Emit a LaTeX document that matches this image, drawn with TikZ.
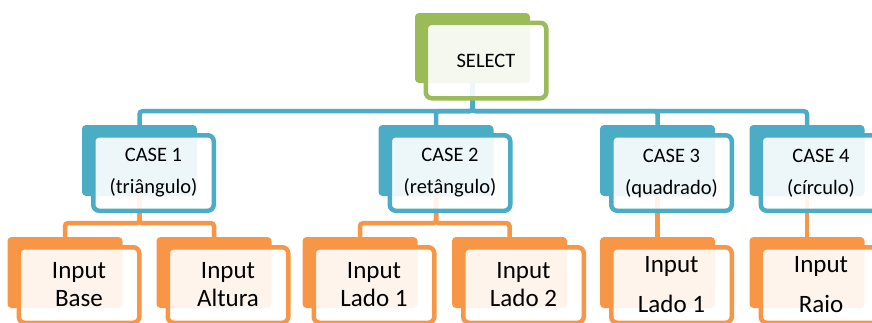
\documentclass[tikz,border=0pt]{standalone}
\usepackage{fontspec}
\setmainfont{Carlito}
\definecolor{selgreen}{HTML}{9BBB59}
\definecolor{caseblue}{HTML}{4BACC6}
\definecolor{inorange}{HTML}{F79646}
\tikzset{
  back/.style={fill=#1, rounded corners=4pt, minimum width=115pt, minimum height=71pt, inner sep=0pt},
  front/.style={draw=#1, line width=4.5pt, fill=white, fill opacity=0.9, text opacity=1,
    rounded corners=6pt, minimum width=120.5pt, minimum height=75.5pt, inner sep=0pt, align=center},
  casefont/.style={font=\fontsize{20.5}{32}\selectfont},
  infont/.style={font=\fontsize{25}{28}\selectfont},
  inwide/.style={font=\fontsize{25}{40}\selectfont},
  link/.style={draw=#1, line width=4.5pt, rounded corners=3pt}
}
\begin{document}
\begin{tikzpicture}[x=1pt, y=-1pt]
    \useasboundingbox (0,0) rectangle (872,322);
    % back plates
    \path (472.5, 48)   node [back=selgreen, minimum height=70pt] (sel) {};
    \path (139.5, 160.5) node [back=caseblue] (c1) {};
    \path (436, 160.5)   node [back=caseblue] (c2) {};
    \path (657.5, 160.5) node [back=caseblue] (c3) {};
    \path (807, 160.5)   node [back=caseblue] (c4) {};
    \path (65, 272.5)    node [back=inorange] (in1) {};
    \path (214, 272.5)   node [back=inorange] (in2) {};
    \path (360, 272.5)   node [back=inorange] (in3) {};
    \path (509.5, 272.5) node [back=inorange] (in4) {};
    \path (657.5, 272.5) node [back=inorange] (in5) {};
    \path (807, 272.5)   node [back=inorange] (in6) {};
    % links
    \draw [link=caseblue] (sel.south) -- +(0,28) -| (c1.north);
    \draw [link=caseblue] (sel.south) -- +(0,28) -| (c2.north);
    \draw [link=caseblue] (sel.south) -- +(0,28) -| (c3.north);
    \draw [link=caseblue] (sel.south) -- +(0,28) -| (c4.north);
    \draw [link=inorange] (c1.south) -- +(0,27) -| (in1.north);
    \draw [link=inorange] (c1.south) -- +(0,27) -| (in2.north);
    \draw [link=inorange] (c2.south) -- +(0,27) -| (in3.north);
    \draw [link=inorange] (c2.south) -- +(0,27) -| (in4.north);
    \draw [link=inorange] (c3.south) -- (in5.north);
    \draw [link=inorange] (c4.south) -- (in6.north);
    % front boxes with the texts
    \path ([shift={(13.5,12.5)}]sel.center) node [front=selgreen, casefont] (self) {SELECT};
    \path ([shift={(14,12.5)}]c1.center) node [front=caseblue, casefont] (c1f) {CASE 1\\(triângulo)};
    \path ([shift={(14,12.5)}]c2.center) node [front=caseblue, casefont] (c2f) {CASE 2\\(retângulo)};
    \path ([shift={(14,12.5)}]c3.center) node [front=caseblue, casefont] (c3f) {CASE 3\\(quadrado)};
    \path ([shift={(14,12.5)}]c4.center) node [front=caseblue, casefont] (c4f) {CASE 4\\(círculo)};
    \path ([shift={(14,12.5)}]in1.center) node [front=inorange, infont] (in1f) {Input\\Base};
    \path ([shift={(14,12.5)}]in2.center) node [front=inorange, infont] (in2f) {Input\\Altura};
    \path ([shift={(14,12.5)}]in3.center) node [front=inorange, infont] (in3f) {Input\\Lado 1};
    \path ([shift={(14,12.5)}]in4.center) node [front=inorange, infont] (in4f) {Input\\Lado 2};
    \path ([shift={(14,12.5)}]in5.center) node [front=inorange, inwide] (in5f) {Input\\Lado 1};
    \path ([shift={(14,12.5)}]in6.center) node [front=inorange, inwide] (in6f) {Input\\Raio};
\end{tikzpicture}
\end{document}
